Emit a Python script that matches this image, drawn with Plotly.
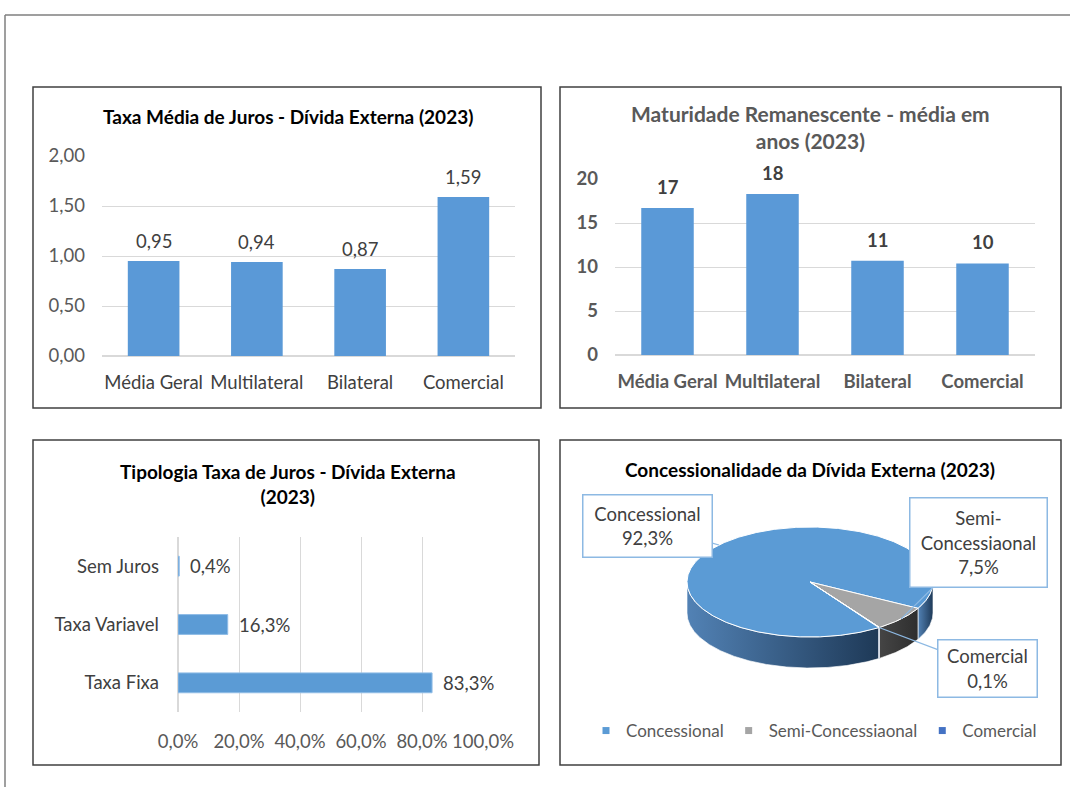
import numpy as np
import plotly.graph_objects as go

W, H = 1070, 787

# ---------------- data ----------------
juros_cats = ["Média Geral", "Multilateral", "Bilateral", "Comercial"]
juros_vals = [0.95, 0.94, 0.87, 1.59]
juros_labels = ["0,95", "0,94", "0,87", "1,59"]
juros_tickvals = [0, 0.5, 1.0, 1.5, 2.0]
juros_ticktext = ["0,00", "0,50", "1,00", "1,50", "2,00"]

mat_cats = ["Média Geral", "Multilateral", "Bilateral", "Comercial"]
mat_vals = [16.7, 18.3, 10.7, 10.4]
mat_labels = ["17", "18", "11", "10"]
mat_tickvals = [0, 5, 10, 15, 20]
mat_ticktext = ["0", "5", "10", "15", "20"]

tipo_cats = ["Taxa Fixa", "Taxa Variavel", "Sem Juros"]
tipo_vals = [83.3, 16.3, 0.4]
tipo_labels = ["83,3%", "16,3%", "0,4%"]
tipo_tickvals = [0, 20, 40, 60, 80, 100]
tipo_ticktext = ["0,0%", "20,0%", "40,0%", "60,0%", "80,0%", "100,0%"]

conc_cats = ["Concessional", "Semi-Concessiaonal", "Comercial"]
conc_vals = [92.3, 7.5, 0.1]
conc_labels = ["Concessional<br>92,3%", "Semi-<br>Concessiaonal<br>7,5%", "Comercial<br>0,1%"]

# ---------------- styling ----------------
FONT = "Lato"
FS = 18.5
BAR = "#5A99D7"
GRID = "#D9D9D9"
TICK = "#595959"
DARK = "#404040"
conc_top = ["#5B9BD5", "#A5A5A5", "#4472C4"]
conc_side = [["#5282B5", "#1E3957"], ["#454545", "#2E2E2E"], ["#2F5496", "#2F5496"]]


def px(x):
    return x / W


def py(y):
    return 1 - y / H


fig = go.Figure()

# ---------- Panel 1: Taxa média de juros ----------
fig.add_trace(go.Bar(x=juros_cats, y=juros_vals, width=0.5, marker_color=BAR,
                     marker_line_width=0, xaxis="x", yaxis="y", showlegend=False))
# ---------- Panel 2: Maturidade ----------
fig.add_trace(go.Bar(x=mat_cats, y=mat_vals, width=0.5, marker_color=BAR,
                     marker_line_width=0, xaxis="x2", yaxis="y2", showlegend=False))
# ---------- Panel 3: Tipologia ----------
fig.add_trace(go.Bar(x=tipo_vals, y=tipo_cats, orientation="h", width=0.34,
                     marker_color="#5B9BD5", marker_line_color="#8FBCE6",
                     marker_line_width=1, xaxis="x3", yaxis="y3", showlegend=False))

# ---------- Panel 4: pseudo-3D pie ----------
CX, CY, RX, RY, DEPTH = 810, 582, 123, 55, 31
d = DEPTH / RY
start = 146.0
tot = sum(conc_vals)
bounds = []
a = start
for v in conc_vals:
    b = a + v / tot * 360.0
    bounds.append((a, b))
    a = b


def rim(t):
    r = np.radians(t)
    return np.sin(r), np.cos(r)


# side walls (front half: 90..270 deg, clockwise from top)
for i, (a, b) in enumerate(bounds):
    for lo, hi in [(90, 270), (450, 630)]:
        s, e = max(a, lo), min(b, hi)
        if e <= s:
            continue
        t = np.linspace(s, e, max(int((e - s) * 2), 2))
        xs, ys = rim(t)
        X = np.concatenate([xs, xs[::-1], xs[:1]])
        Y = np.concatenate([ys, ys[::-1] - d, ys[:1]])
        fig.add_trace(go.Scatter(
            x=X, y=Y, mode="lines", fill="toself",
            fillgradient=dict(type="horizontal",
                              colorscale=[[0, conc_side[i][0]], [1, conc_side[i][1]]]),
            line=dict(color="rgba(255,255,255,0.8)", width=0.8),
            xaxis="x4", yaxis="y4", showlegend=False, hoverinfo="skip"))

# top faces
for i, (a, b) in enumerate(bounds):
    t = np.linspace(a, b, max(int((b - a) * 2), 2))
    xs, ys = rim(t)
    X = np.concatenate([[0], xs, [0]])
    Y = np.concatenate([[0], ys, [0]])
    fig.add_trace(go.Scatter(
        x=X, y=Y, mode="lines", fill="toself", fillcolor=conc_top[i],
        line=dict(color="white", width=1), name=conc_cats[i],
        xaxis="x4", yaxis="y4", showlegend=False, hoverinfo="skip"))

# legend entries
for i, c in enumerate(conc_cats):
    fig.add_trace(go.Scatter(x=[None], y=[None], mode="markers", name=c,
                             marker=dict(symbol="square", size=7, color=conc_top[i]),
                             xaxis="x4", yaxis="y4", showlegend=True))

annotations = []

# bar labels panel 1
for c, v, l in zip(juros_cats, juros_vals, juros_labels):
    annotations.append(dict(x=c, y=v, xref="x", yref="y", text=l, showarrow=False,
                            yanchor="bottom", yshift=7,
                            font=dict(family=FONT, size=FS, color=DARK)))
# bar labels panel 2
for c, v, l in zip(mat_cats, mat_vals, mat_labels):
    annotations.append(dict(x=c, y=v, xref="x2", yref="y2", text="<b>%s</b>" % l,
                            showarrow=False, yanchor="bottom", yshift=8,
                            font=dict(family=FONT, size=FS, color=DARK)))
# bar labels panel 3
for c, v, l in zip(tipo_cats, tipo_vals, tipo_labels):
    annotations.append(dict(x=v, y=c, xref="x3", yref="y3", text=l, showarrow=False,
                            xanchor="left", xshift=9,
                            font=dict(family=FONT, size=FS, color=DARK)))

# pie callouts
boxes = [((647.5, 526), 122, 55), ((978.5, 542.5), 130, 82), ((987.5, 668.5), 92, 50)]
for i, (a, b) in enumerate(bounds):
    hx, hy = rim((a + b) / 2)
    (bx, by), bw, bh = boxes[i]
    annotations.append(dict(
        x=hx, y=hy, xref="x4", yref="y4",
        ax=(bx - CX) / RX, ay=(CY - by) / RY, axref="x4", ayref="y4",
        text=conc_labels[i], showarrow=True, arrowhead=0, arrowwidth=1.2,
        arrowcolor="#8DB9E3", bordercolor="#8DB9E3", borderwidth=1.5,
        borderpad=3, bgcolor="white", width=bw, height=bh,
        font=dict(family=FONT, size=FS, color=DARK)))

# titles
annotations += [
    dict(x=px(288), y=py(116), xref="paper", yref="paper", showarrow=False,
         xanchor="center", yanchor="middle",
         text="<b>Taxa Média de Juros - Dívida Externa (2023)</b>",
         font=dict(family=FONT, size=19, color="black")),
    dict(x=px(810), y=py(127), xref="paper", yref="paper", showarrow=False,
         xanchor="center", yanchor="middle",
         text="<b>Maturidade Remanescente - média em<br>anos (2023)</b>",
         font=dict(family=FONT, size=21, color=TICK)),
    dict(x=px(288), y=py(484), xref="paper", yref="paper", showarrow=False,
         xanchor="center", yanchor="middle",
         text="<b>Tipologia Taxa de Juros - Dívida Externa<br>(2023)</b>",
         font=dict(family=FONT, size=19, color="black")),
    dict(x=px(810), y=py(470), xref="paper", yref="paper", showarrow=False,
         xanchor="center", yanchor="middle",
         text="<b>Concessionalidade da Dívida Externa (2023)</b>",
         font=dict(family=FONT, size=19, color="black")),
]

# frames
shapes = [
    dict(type="line", xref="paper", yref="paper", x0=px(5), x1=1, y0=py(15), y1=py(15),
         line=dict(color="#7F7F7F", width=1.5)),
    dict(type="line", xref="paper", yref="paper", x0=px(5), x1=px(5), y0=py(15), y1=0,
         line=dict(color="#7F7F7F", width=1.5)),
]
for (x0, y0, x1, y1) in [(33, 87, 541, 408), (560, 87, 1061, 408),
                         (33, 440, 539, 765), (560, 440, 1061, 765)]:
    shapes.append(dict(type="rect", xref="paper", yref="paper",
                       x0=px(x0), x1=px(x1), y0=py(y1), y1=py(y0),
                       line=dict(color="#404040", width=1.5), layer="below"))

tickf = dict(family=FONT, size=FS, color=TICK)

fig.update_layout(
    width=W, height=H, margin=dict(l=0, r=0, t=0, b=0, autoexpand=False),
    paper_bgcolor="white", plot_bgcolor="rgba(0,0,0,0)",
    showlegend=True,
    legend=dict(orientation="h", x=px(814), xanchor="center", y=py(731), yanchor="middle",
                font=dict(family=FONT, size=17, color=TICK), itemsizing="trace",
                bgcolor="rgba(0,0,0,0)", itemclick=False),
    xaxis=dict(domain=[px(102), px(515)], anchor="y", range=[-0.5, 3.5], automargin=False,
               showgrid=False, zeroline=False, showline=False, ticks="",
               tickfont=dict(family=FONT, size=FS, color=DARK), ticklabelstandoff=13),
    yaxis=dict(domain=[py(356), py(156)], anchor="x", range=[0, 2], automargin=False,
               tickvals=juros_tickvals, ticktext=juros_ticktext, tickfont=tickf,
               gridcolor=GRID, zeroline=True, zerolinecolor=GRID, showline=False,
               ticklabelstandoff=16),
    xaxis2=dict(domain=[px(615), px(1035)], anchor="y2", range=[-0.5, 3.5], automargin=False,
                showgrid=False, zeroline=False, showline=False, ticks="",
                tickvals=mat_cats, ticktext=["<b>%s</b>" % c for c in mat_cats],
                tickfont=tickf, ticklabelstandoff=13),
    yaxis2=dict(domain=[py(355), py(179)], anchor="x2", range=[0, 20], automargin=False,
                tickvals=mat_tickvals, ticktext=["<b>%s</b>" % t for t in mat_ticktext],
                tickfont=tickf, gridcolor=GRID, zeroline=True, zerolinecolor=GRID,
                showline=False, ticklabelstandoff=16),
    xaxis3=dict(domain=[px(178), px(483)], anchor="y3", range=[0, 100], automargin=False,
                tickvals=tipo_tickvals, ticktext=tipo_ticktext, tickfont=tickf,
                gridcolor=GRID, zeroline=True, zerolinecolor=GRID, showline=False,
                ticklabelstandoff=16),
    yaxis3=dict(domain=[py(712), py(537)], anchor="x3", range=[-0.5, 2.5], automargin=False,
                showgrid=False, zeroline=False, showline=False, ticks="",
                tickfont=dict(family=FONT, size=FS, color=DARK), ticklabelstandoff=18),
    xaxis4=dict(domain=[px(CX - 1.1 * RX), px(CX + 1.1 * RX)], anchor="y4", automargin=False,
                range=[-1.1, 1.1], visible=False, fixedrange=True),
    yaxis4=dict(domain=[py(CY + (1.1 + d) * RY), py(CY - 1.1 * RY)], anchor="x4",
                automargin=False, range=[-1.1 - d, 1.1], visible=False, fixedrange=True),
    annotations=annotations,
    shapes=shapes,
)

fig.write_html("out.html")
